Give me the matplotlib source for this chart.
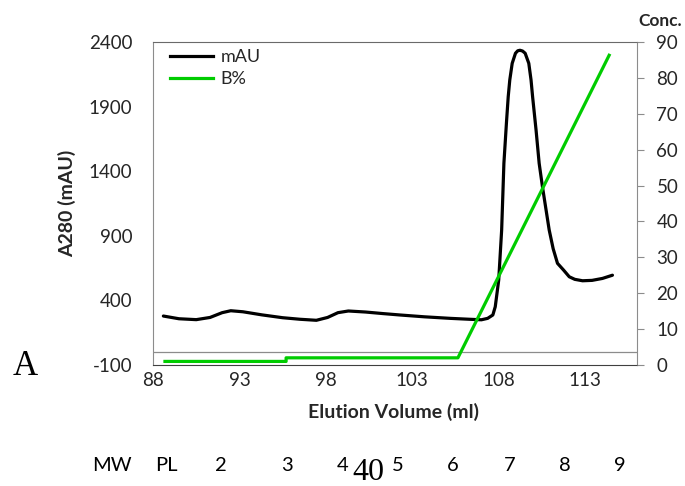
import matplotlib
matplotlib.use("Agg")
import matplotlib.pyplot as plt
from matplotlib.lines import Line2D

plt.rcParams['font.family'] = ['Lato', 'DejaVu Sans']
plt.rcParams['axes.unicode_minus'] = False

# Absorbance trace (elution volume in ml, A280 in mAU)
vol_mau = [88.6, 89.5, 90.5, 91.3, 92.0, 92.5, 93.2, 94.3, 95.5, 96.5, 97.45,
           98.1, 98.7, 99.3, 100.3, 101.3, 102.3, 103.7, 105.2, 106.3, 107.0,
           107.36, 107.66, 107.8, 108.0, 108.17, 108.3, 108.45, 108.55, 108.64,
           108.78, 108.97, 109.1, 109.23, 109.38, 109.53, 109.74, 109.87,
           109.96, 110.16, 110.34, 110.53, 110.92, 111.15, 111.4, 111.75,
           112.08, 112.4, 112.85, 113.4, 114.0, 114.58]
mau = [279, 258, 251, 268, 305, 320, 312, 288, 266, 254, 246,
       268, 305, 318, 310, 298, 287, 273, 261, 254, 250,
       261, 287, 351, 558, 945, 1461, 1780, 1977, 2106,
       2235, 2313, 2332, 2336, 2330, 2313, 2235, 2106,
       1977, 1719, 1461, 1280, 945, 800, 687, 635,
       583, 563, 552, 555, 570, 595]

# Buffer B gradient (%)
vol_b = [88.6, 95.7, 95.7, 105.64, 114.43]
b_pct = [1, 1, 2, 2, 86.7]

# Lane labels under the chart
lane_labels = ['MW', 'PL', '2', '3', '4', '5', '6', '7', '8', '9']
lane_x = [112, 166, 221, 287, 343, 398, 453, 510, 565, 620]  # pixel centres

W, H = 685, 486
fig = plt.figure(figsize=(W / 100, H / 100), dpi=100)
ax = fig.add_axes([153 / W, (H - 365) / H, 484 / W, 323 / H])

spine_col = '#8c8c8c'
text_col = '#262626'
tick_fs = 13.5

ax.plot(vol_mau, mau, color='black', lw=2.3, solid_joinstyle='round',
        solid_capstyle='round')
ax.axhline(0, color=spine_col, lw=0.9, zorder=0)
ax.set_xlim(88, 116)
ax.set_ylim(-100, 2400)
ax.set_xticks([88, 93, 98, 103, 108, 113])
ax.set_yticks([-100, 400, 900, 1400, 1900, 2400])
ax.tick_params(axis='y', length=0, pad=15, labelsize=tick_fs, labelcolor=text_col)
ax.tick_params(axis='x', length=0, pad=5, labelsize=tick_fs, labelcolor=text_col)
for s in ['left', 'right']:
    ax.spines[s].set_color(spine_col)
ax.spines['top'].set_color('#6a6a6a')
ax.spines['bottom'].set_color('#404040')

ax2 = ax.twinx()
ax2.plot(vol_b, b_pct, color='#00cc00', lw=2.3, solid_capstyle='butt')
ax2.set_ylim(0, 90)
ax2.set_yticks(range(0, 91, 10))
ax2.tick_params(axis='y', length=5, width=0.8, color=spine_col, pad=9,
                labelsize=tick_fs, labelcolor=text_col)
for s in ['left', 'right', 'top', 'bottom']:
    ax2.spines[s].set_visible(False)
ax.spines['right'].set_visible(True)

handles = [Line2D([], [], color='black', lw=2.3),
           Line2D([], [], color='#00cc00', lw=2.3)]
ax2.legend(handles, ['mAU', 'B%'], loc='upper left', frameon=False,
           bbox_to_anchor=(0.035, 0.978), borderaxespad=0, borderpad=0,
           handlelength=2.4, handletextpad=0.4, labelspacing=0.35,
           fontsize=13, labelcolor=text_col)


def px(x, y):
    return x / W, 1 - y / H


fig.text(*px(394, 412), 'Elution Volume (ml)', ha='center', va='center',
         fontsize=14, fontweight='bold', color=text_col)
fig.text(*px(67, 203), 'A280 (mAU)', ha='center', va='center', rotation=90,
         fontsize=14, fontweight='bold', color=text_col)
fig.text(*px(638, 21), 'Conc.', ha='left', va='center',
         fontsize=12.5, fontweight='bold', color=text_col)

for lab, x in zip(lane_labels, lane_x):
    fig.text(*px(x, 465), lab, ha='center', va='center', fontsize=14.5,
             color='black')

fig.text(*px(368, 480), '40', ha='center', va='baseline', fontsize=23,
         family=['Liberation Serif', 'DejaVu Serif'], color='black')
fig.text(*px(25, 375), 'A', ha='center', va='baseline', fontsize=25,
         family=['Liberation Serif', 'DejaVu Serif'], color='black')

fig.savefig('out.png', dpi=100)
